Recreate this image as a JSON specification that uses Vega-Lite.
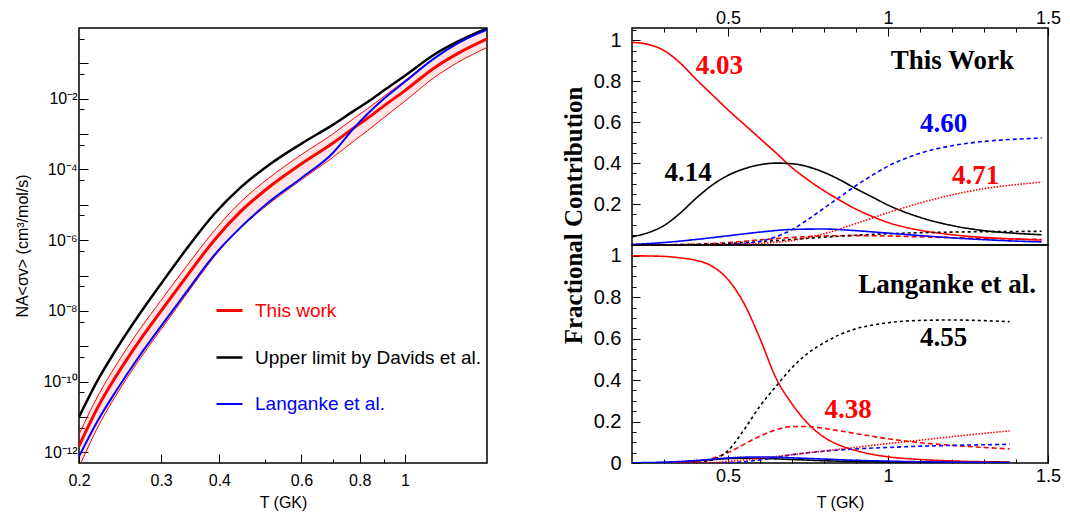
{
  "$schema": "https://vega.github.io/schema/vega-lite/v6.json",
  "background": "white",
  "padding": {"left": 13, "top": 4, "right": 5, "bottom": 5},
  "bounds": "flush",
  "spacing": 145,
  "config": {
    "view": {"stroke": "#000000", "strokeWidth": 1.5},
    "axis": {"grid": false, "domain": false, "tickColor": "#000000", "tickWidth": 1, "labelColor": "#000000", "titleColor": "#000000", "labelFont": "Liberation Sans", "titleFont": "Liberation Sans", "titleFontWeight": "normal", "labelOverlap": false, "labelFlush": false}
  },
  "resolve": {"scale": {"x": "independent", "y": "independent", "color": "independent", "strokeWidth": "independent"}},
  "datasets": {
    "rate": [
      {"T": 0.2, "lower": 3.8e-13, "upper": 3.24e-12, "this": 1.51e-12, "davids": 1.0e-11, "langanke": 7.59e-13},
      {"T": 0.22, "lower": 5.5e-12, "upper": 4.17e-11, "this": 2.0e-11, "davids": 1.175e-10, "langanke": 8.32e-12},
      {"T": 0.24, "lower": 4.07e-11, "upper": 2.88e-10, "this": 1.41e-10, "davids": 7.94e-10, "langanke": 5.37e-11},
      {"T": 0.27, "lower": 4.37e-10, "upper": 3.02e-9, "this": 1.48e-9, "davids": 8.32e-9, "langanke": 5.5e-10},
      {"T": 0.3, "lower": 3.02e-9, "upper": 2.0e-8, "this": 1.0e-8, "davids": 5.89e-8, "langanke": 3.72e-9},
      {"T": 0.34, "lower": 2.95e-8, "upper": 1.82e-7, "this": 9.33e-8, "davids": 5.62e-7, "langanke": 3.47e-8},
      {"T": 0.39, "lower": 3.39e-7, "upper": 1.86e-6, "this": 1.0e-6, "davids": 5.5e-6, "langanke": 3.8e-7},
      {"T": 0.445, "lower": 2.29e-6, "upper": 1.23e-5, "this": 6.61e-6, "davids": 3.16e-5, "langanke": 2.34e-6},
      {"T": 0.51, "lower": 1.047e-5, "upper": 5.62e-5, "this": 3.09e-5, "davids": 1.318e-4, "langanke": 1.175e-5},
      {"T": 0.6, "lower": 5.13e-5, "upper": 2.63e-4, "this": 1.445e-4, "davids": 5.37e-4, "langanke": 5.75e-5},
      {"T": 0.7, "lower": 2.19e-4, "upper": 1.0e-3, "this": 5.5e-4, "davids": 1.82e-3, "langanke": 2.88e-4},
      {"T": 0.78, "lower": 6.61e-4, "upper": 2.88e-3, "this": 1.55e-3, "davids": 4.68e-3, "langanke": 1.55e-3},
      {"T": 0.83, "lower": 1.23e-3, "upper": 5.13e-3, "this": 2.75e-3, "davids": 7.94e-3, "langanke": 3.63e-3},
      {"T": 0.9, "lower": 2.88e-3, "upper": 1.148e-2, "this": 6.17e-3, "davids": 1.7e-2, "langanke": 9.77e-3},
      {"T": 1.0, "lower": 8.51e-3, "upper": 3.24e-2, "this": 1.7e-2, "davids": 4.47e-2, "langanke": 3.02e-2},
      {"T": 1.15, "lower": 3.8e-2, "upper": 0.135, "this": 7.08e-2, "davids": 0.17, "langanke": 0.132},
      {"T": 1.3, "lower": 0.107, "upper": 0.363, "this": 0.191, "davids": 0.417, "langanke": 0.372},
      {"T": 1.5, "lower": 0.282, "upper": 0.933, "this": 0.49, "davids": 0.977, "langanke": 0.891}
    ],
    "upper": [
      {"s": "4.03", "T": 0.2, "f": 0.99}, {"s": "4.03", "T": 0.25, "f": 0.98}, {"s": "4.03", "T": 0.3, "f": 0.95}, {"s": "4.03", "T": 0.35, "f": 0.89}, {"s": "4.03", "T": 0.4, "f": 0.81}, {"s": "4.03", "T": 0.45, "f": 0.735}, {"s": "4.03", "T": 0.5, "f": 0.66}, {"s": "4.03", "T": 0.55, "f": 0.59}, {"s": "4.03", "T": 0.6, "f": 0.52}, {"s": "4.03", "T": 0.65, "f": 0.45}, {"s": "4.03", "T": 0.7, "f": 0.378}, {"s": "4.03", "T": 0.75, "f": 0.318}, {"s": "4.03", "T": 0.8, "f": 0.265}, {"s": "4.03", "T": 0.85, "f": 0.218}, {"s": "4.03", "T": 0.9, "f": 0.175}, {"s": "4.03", "T": 0.95, "f": 0.14}, {"s": "4.03", "T": 1.0, "f": 0.11}, {"s": "4.03", "T": 1.1, "f": 0.072}, {"s": "4.03", "T": 1.2, "f": 0.05}, {"s": "4.03", "T": 1.3, "f": 0.037}, {"s": "4.03", "T": 1.4, "f": 0.029}, {"s": "4.03", "T": 1.48, "f": 0.024},
      {"s": "4.14", "T": 0.2, "f": 0.04}, {"s": "4.14", "T": 0.25, "f": 0.06}, {"s": "4.14", "T": 0.3, "f": 0.095}, {"s": "4.14", "T": 0.35, "f": 0.155}, {"s": "4.14", "T": 0.4, "f": 0.228}, {"s": "4.14", "T": 0.45, "f": 0.292}, {"s": "4.14", "T": 0.5, "f": 0.34}, {"s": "4.14", "T": 0.55, "f": 0.372}, {"s": "4.14", "T": 0.6, "f": 0.392}, {"s": "4.14", "T": 0.65, "f": 0.4}, {"s": "4.14", "T": 0.7, "f": 0.397}, {"s": "4.14", "T": 0.75, "f": 0.382}, {"s": "4.14", "T": 0.8, "f": 0.355}, {"s": "4.14", "T": 0.85, "f": 0.318}, {"s": "4.14", "T": 0.9, "f": 0.275}, {"s": "4.14", "T": 0.95, "f": 0.235}, {"s": "4.14", "T": 1.0, "f": 0.195}, {"s": "4.14", "T": 1.1, "f": 0.135}, {"s": "4.14", "T": 1.2, "f": 0.095}, {"s": "4.14", "T": 1.3, "f": 0.07}, {"s": "4.14", "T": 1.4, "f": 0.057}, {"s": "4.14", "T": 1.48, "f": 0.05},
      {"s": "4.38", "T": 0.2, "f": 0.0}, {"s": "4.38", "T": 0.3, "f": 0.001}, {"s": "4.38", "T": 0.4, "f": 0.004}, {"s": "4.38", "T": 0.5, "f": 0.012}, {"s": "4.38", "T": 0.6, "f": 0.025}, {"s": "4.38", "T": 0.7, "f": 0.037}, {"s": "4.38", "T": 0.8, "f": 0.044}, {"s": "4.38", "T": 0.9, "f": 0.046}, {"s": "4.38", "T": 1.0, "f": 0.044}, {"s": "4.38", "T": 1.1, "f": 0.04}, {"s": "4.38", "T": 1.2, "f": 0.036}, {"s": "4.38", "T": 1.3, "f": 0.032}, {"s": "4.38", "T": 1.4, "f": 0.029}, {"s": "4.38", "T": 1.48, "f": 0.027},
      {"s": "4.55", "T": 0.2, "f": 0.0}, {"s": "4.55", "T": 0.3, "f": 0.001}, {"s": "4.55", "T": 0.4, "f": 0.003}, {"s": "4.55", "T": 0.5, "f": 0.008}, {"s": "4.55", "T": 0.6, "f": 0.016}, {"s": "4.55", "T": 0.7, "f": 0.027}, {"s": "4.55", "T": 0.8, "f": 0.038}, {"s": "4.55", "T": 0.9, "f": 0.048}, {"s": "4.55", "T": 1.0, "f": 0.055}, {"s": "4.55", "T": 1.1, "f": 0.06}, {"s": "4.55", "T": 1.2, "f": 0.063}, {"s": "4.55", "T": 1.3, "f": 0.065}, {"s": "4.55", "T": 1.4, "f": 0.066}, {"s": "4.55", "T": 1.48, "f": 0.067},
      {"s": "4.60", "T": 0.2, "f": 0.0}, {"s": "4.60", "T": 0.4, "f": 0.0}, {"s": "4.60", "T": 0.5, "f": 0.003}, {"s": "4.60", "T": 0.55, "f": 0.008}, {"s": "4.60", "T": 0.6, "f": 0.018}, {"s": "4.60", "T": 0.65, "f": 0.04}, {"s": "4.60", "T": 0.7, "f": 0.075}, {"s": "4.60", "T": 0.75, "f": 0.125}, {"s": "4.60", "T": 0.8, "f": 0.18}, {"s": "4.60", "T": 0.85, "f": 0.235}, {"s": "4.60", "T": 0.9, "f": 0.29}, {"s": "4.60", "T": 0.95, "f": 0.34}, {"s": "4.60", "T": 1.0, "f": 0.385}, {"s": "4.60", "T": 1.05, "f": 0.42}, {"s": "4.60", "T": 1.1, "f": 0.448}, {"s": "4.60", "T": 1.2, "f": 0.485}, {"s": "4.60", "T": 1.3, "f": 0.506}, {"s": "4.60", "T": 1.4, "f": 0.517}, {"s": "4.60", "T": 1.48, "f": 0.522},
      {"s": "4.71", "T": 0.2, "f": 0.0}, {"s": "4.71", "T": 0.4, "f": 0.0}, {"s": "4.71", "T": 0.5, "f": 0.002}, {"s": "4.71", "T": 0.6, "f": 0.008}, {"s": "4.71", "T": 0.7, "f": 0.022}, {"s": "4.71", "T": 0.8, "f": 0.055}, {"s": "4.71", "T": 0.9, "f": 0.105}, {"s": "4.71", "T": 1.0, "f": 0.158}, {"s": "4.71", "T": 1.1, "f": 0.205}, {"s": "4.71", "T": 1.2, "f": 0.245}, {"s": "4.71", "T": 1.3, "f": 0.275}, {"s": "4.71", "T": 1.4, "f": 0.295}, {"s": "4.71", "T": 1.48, "f": 0.307},
      {"s": "other", "T": 0.2, "f": 0.003}, {"s": "other", "T": 0.3, "f": 0.012}, {"s": "other", "T": 0.4, "f": 0.027}, {"s": "other", "T": 0.5, "f": 0.045}, {"s": "other", "T": 0.6, "f": 0.063}, {"s": "other", "T": 0.7, "f": 0.076}, {"s": "other", "T": 0.8, "f": 0.078}, {"s": "other", "T": 0.9, "f": 0.07}, {"s": "other", "T": 1.0, "f": 0.058}, {"s": "other", "T": 1.1, "f": 0.046}, {"s": "other", "T": 1.2, "f": 0.035}, {"s": "other", "T": 1.3, "f": 0.026}, {"s": "other", "T": 1.4, "f": 0.019}, {"s": "other", "T": 1.48, "f": 0.015}
    ],
    "lower": [
      {"s": "4.03", "T": 0.2, "f": 1.0}, {"s": "4.03", "T": 0.25, "f": 0.999}, {"s": "4.03", "T": 0.3, "f": 0.997}, {"s": "4.03", "T": 0.35, "f": 0.99}, {"s": "4.03", "T": 0.4, "f": 0.978}, {"s": "4.03", "T": 0.45, "f": 0.95}, {"s": "4.03", "T": 0.5, "f": 0.885}, {"s": "4.03", "T": 0.55, "f": 0.77}, {"s": "4.03", "T": 0.6, "f": 0.6}, {"s": "4.03", "T": 0.65, "f": 0.41}, {"s": "4.03", "T": 0.7, "f": 0.285}, {"s": "4.03", "T": 0.75, "f": 0.19}, {"s": "4.03", "T": 0.8, "f": 0.125}, {"s": "4.03", "T": 0.85, "f": 0.085}, {"s": "4.03", "T": 0.9, "f": 0.06}, {"s": "4.03", "T": 0.95, "f": 0.042}, {"s": "4.03", "T": 1.0, "f": 0.03}, {"s": "4.03", "T": 1.1, "f": 0.017}, {"s": "4.03", "T": 1.2, "f": 0.01}, {"s": "4.03", "T": 1.3, "f": 0.006}, {"s": "4.03", "T": 1.38, "f": 0.005},
      {"s": "4.14", "T": 0.2, "f": 0.0}, {"s": "4.14", "T": 0.3, "f": 0.002}, {"s": "4.14", "T": 0.4, "f": 0.01}, {"s": "4.14", "T": 0.45, "f": 0.016}, {"s": "4.14", "T": 0.5, "f": 0.021}, {"s": "4.14", "T": 0.55, "f": 0.023}, {"s": "4.14", "T": 0.6, "f": 0.022}, {"s": "4.14", "T": 0.7, "f": 0.017}, {"s": "4.14", "T": 0.8, "f": 0.011}, {"s": "4.14", "T": 0.9, "f": 0.007}, {"s": "4.14", "T": 1.0, "f": 0.005}, {"s": "4.14", "T": 1.2, "f": 0.003}, {"s": "4.14", "T": 1.38, "f": 0.002},
      {"s": "4.38", "T": 0.2, "f": 0.0}, {"s": "4.38", "T": 0.35, "f": 0.002}, {"s": "4.38", "T": 0.4, "f": 0.008}, {"s": "4.38", "T": 0.45, "f": 0.022}, {"s": "4.38", "T": 0.5, "f": 0.05}, {"s": "4.38", "T": 0.55, "f": 0.09}, {"s": "4.38", "T": 0.6, "f": 0.13}, {"s": "4.38", "T": 0.65, "f": 0.16}, {"s": "4.38", "T": 0.7, "f": 0.176}, {"s": "4.38", "T": 0.75, "f": 0.176}, {"s": "4.38", "T": 0.8, "f": 0.167}, {"s": "4.38", "T": 0.85, "f": 0.155}, {"s": "4.38", "T": 0.9, "f": 0.142}, {"s": "4.38", "T": 1.0, "f": 0.117}, {"s": "4.38", "T": 1.1, "f": 0.098}, {"s": "4.38", "T": 1.2, "f": 0.085}, {"s": "4.38", "T": 1.3, "f": 0.075}, {"s": "4.38", "T": 1.38, "f": 0.068},
      {"s": "4.55", "T": 0.2, "f": 0.0}, {"s": "4.55", "T": 0.4, "f": 0.002}, {"s": "4.55", "T": 0.45, "f": 0.015}, {"s": "4.55", "T": 0.5, "f": 0.06}, {"s": "4.55", "T": 0.55, "f": 0.16}, {"s": "4.55", "T": 0.6, "f": 0.275}, {"s": "4.55", "T": 0.65, "f": 0.37}, {"s": "4.55", "T": 0.7, "f": 0.46}, {"s": "4.55", "T": 0.75, "f": 0.53}, {"s": "4.55", "T": 0.8, "f": 0.58}, {"s": "4.55", "T": 0.85, "f": 0.62}, {"s": "4.55", "T": 0.9, "f": 0.648}, {"s": "4.55", "T": 0.95, "f": 0.665}, {"s": "4.55", "T": 1.0, "f": 0.677}, {"s": "4.55", "T": 1.1, "f": 0.688}, {"s": "4.55", "T": 1.2, "f": 0.69}, {"s": "4.55", "T": 1.3, "f": 0.687}, {"s": "4.55", "T": 1.38, "f": 0.682},
      {"s": "4.60", "T": 0.2, "f": 0.0}, {"s": "4.60", "T": 0.45, "f": 0.0}, {"s": "4.60", "T": 0.5, "f": 0.002}, {"s": "4.60", "T": 0.55, "f": 0.006}, {"s": "4.60", "T": 0.6, "f": 0.015}, {"s": "4.60", "T": 0.65, "f": 0.027}, {"s": "4.60", "T": 0.7, "f": 0.04}, {"s": "4.60", "T": 0.8, "f": 0.057}, {"s": "4.60", "T": 0.9, "f": 0.068}, {"s": "4.60", "T": 1.0, "f": 0.075}, {"s": "4.60", "T": 1.1, "f": 0.081}, {"s": "4.60", "T": 1.2, "f": 0.085}, {"s": "4.60", "T": 1.3, "f": 0.088}, {"s": "4.60", "T": 1.38, "f": 0.09},
      {"s": "4.71", "T": 0.2, "f": 0.0}, {"s": "4.71", "T": 0.45, "f": 0.002}, {"s": "4.71", "T": 0.5, "f": 0.008}, {"s": "4.71", "T": 0.6, "f": 0.022}, {"s": "4.71", "T": 0.7, "f": 0.04}, {"s": "4.71", "T": 0.8, "f": 0.058}, {"s": "4.71", "T": 0.9, "f": 0.076}, {"s": "4.71", "T": 1.0, "f": 0.094}, {"s": "4.71", "T": 1.1, "f": 0.11}, {"s": "4.71", "T": 1.2, "f": 0.127}, {"s": "4.71", "T": 1.3, "f": 0.143}, {"s": "4.71", "T": 1.38, "f": 0.155},
      {"s": "other", "T": 0.2, "f": 0.001}, {"s": "other", "T": 0.3, "f": 0.004}, {"s": "other", "T": 0.4, "f": 0.012}, {"s": "other", "T": 0.45, "f": 0.018}, {"s": "other", "T": 0.5, "f": 0.024}, {"s": "other", "T": 0.55, "f": 0.028}, {"s": "other", "T": 0.6, "f": 0.029}, {"s": "other", "T": 0.65, "f": 0.028}, {"s": "other", "T": 0.7, "f": 0.025}, {"s": "other", "T": 0.8, "f": 0.019}, {"s": "other", "T": 0.9, "f": 0.013}, {"s": "other", "T": 1.0, "f": 0.009}, {"s": "other", "T": 1.1, "f": 0.006}, {"s": "other", "T": 1.2, "f": 0.004}, {"s": "other", "T": 1.38, "f": 0.002}
    ]
  },
  "hconcat": [
    {
      "width": 408,
      "height": 435,
      "data": {"name": "rate"},
      "layer": [
        {
          "mark": {"type": "area", "color": "#ff0000", "opacity": 0.1, "clip": true, "interpolate": "monotone"},
          "encoding": {
            "x": {"field": "T", "type": "quantitative", "scale": {"type": "log", "domain": [0.2, 1.5], "nice": false},
              "axis": {"title": "T (GK)", "titleFontSize": 16, "titleY": 39, "titleBaseline": "middle", "labelOverlap": false, "labelFlush": false, "tickCount": 100,
                "values": [0.2, 0.3, 0.4, 0.5, 0.6, 0.7, 0.8, 0.9, 1],
                "labelExpr": "(datum.value == 0.5 || datum.value == 0.7 || datum.value == 0.9) ? '' : format(datum.value, '~g')",
                "tickSize": {"condition": {"test": "datum.value == 0.5 || datum.value == 0.7 || datum.value == 0.9", "value": -4}, "value": -9},
                "labelPadding": 18, "labelFontSize": 16}},
            "y": {"field": "lower", "type": "quantitative", "scale": {"type": "log", "domain": [5.012e-13, 1], "nice": false},
              "axis": {"title": "NA<σv> (cm³/mol/s)", "titleFontSize": 16, "titleX": -57, "titleBaseline": "middle", "labelOverlap": false, "tickCount": 100,
                "values": [1e-12, 5e-12, 1e-11, 5e-11, 1e-10, 5e-10, 1e-9, 5e-9, 1e-8, 5e-8, 1e-7, 5e-7, 1e-6, 5e-6, 1e-5, 5e-5, 1e-4, 5e-4, 1e-3, 5e-3, 1e-2, 5e-2, 1e-1, 5e-1],
                "labelExpr": "round(log(datum.value)/LN10*10) == -20 ? '10⁻²' : round(log(datum.value)/LN10*10) == -40 ? '10⁻⁴' : round(log(datum.value)/LN10*10) == -60 ? '10⁻⁶' : round(log(datum.value)/LN10*10) == -80 ? '10⁻⁸' : round(log(datum.value)/LN10*10) == -100 ? '10⁻¹⁰' : round(log(datum.value)/LN10*10) == -120 ? '10⁻¹²' : ''",
                "tickSize": {"condition": {"test": "round(log(datum.value)/LN10*10) % 10 == 0", "value": -9}, "value": -5},
                "labelPadding": 11, "labelFontSize": 16}},
            "y2": {"field": "upper"}
          }
        },
        {
          "mark": {"type": "line", "color": "#ff0000", "strokeWidth": 1, "clip": true, "interpolate": "monotone"},
          "encoding": {"x": {"field": "T", "type": "quantitative"}, "y": {"field": "upper", "type": "quantitative"}}
        },
        {
          "mark": {"type": "line", "color": "#ff0000", "strokeWidth": 1, "clip": true, "interpolate": "monotone"},
          "encoding": {"x": {"field": "T", "type": "quantitative"}, "y": {"field": "lower", "type": "quantitative"}}
        },
        {
          "transform": [{"fold": ["this", "davids", "langanke"], "as": ["series", "rate"]}],
          "mark": {"type": "line", "clip": true, "interpolate": "monotone"},
          "encoding": {
            "x": {"field": "T", "type": "quantitative"},
            "y": {"field": "rate", "type": "quantitative"},
            "color": {"field": "series", "type": "nominal",
              "scale": {"domain": ["this", "davids", "langanke"], "range": ["#ff0000", "#000000", "#0000ff"]},
              "legend": {"orient": "none", "legendX": 136, "legendY": 268, "title": null, "padding": 0,
                "symbolType": "stroke", "symbolSize": 676, "symbolStrokeWidth": 2,
                "labelFont": "Liberation Sans", "labelFontSize": 19, "labelOffset": 11, "rowPadding": 22, "labelLimit": 400,
                "labelExpr": "datum.label == 'this' ? 'This work' : datum.label == 'davids' ? 'Upper limit by Davids et al.' : 'Langanke et al.'",
                "encode": {
                  "labels": {"update": {"fill": {"signal": "datum.value == 'this' ? '#ff0000' : datum.value == 'davids' ? '#000000' : '#0000ff'"}}},
                  "symbols": {"update": {"strokeWidth": {"signal": "datum.value == 'this' ? 3.5 : 2"}}}
                }}},
            "strokeWidth": {"field": "series", "type": "nominal", "scale": {"domain": ["this", "davids", "langanke"], "range": [3, 2, 2]}, "legend": null}
          }
        }
      ]
    },
    {
      "vconcat": [
        {
          "width": 416,
          "height": 217,
          "layer": [
            {
              "data": {"name": "upper"},
              "mark": {"type": "line", "clip": true, "interpolate": "monotone"},
              "encoding": {
                "x": {"field": "T", "type": "quantitative", "scale": {"domain": [0.2, 1.5], "nice": false, "zero": false},
                  "axis": {"orient": "top", "title": null, "labelOverlap": false, "labelFlush": false, "tickCount": 100,
                    "values": [0.3, 0.4, 0.5, 0.6, 0.7, 0.8, 0.9, 1.0, 1.1, 1.2, 1.3, 1.4, 1.5],
                    "labelExpr": "abs(datum.value*2 - round(datum.value*2)) < 0.001 ? format(datum.value, '~g') : ''",
                    "tickSize": {"condition": {"test": "abs(datum.value*2 - round(datum.value*2)) < 0.001", "value": -8}, "value": -4},
                    "labelPadding": 9, "labelFontSize": 18}},
                "y": {"field": "f", "type": "quantitative", "scale": {"domain": [0, 1.06], "nice": false},
                  "axis": {"title": "Fractional Contribution", "titleFont": "Liberation Serif", "titleFontWeight": "bold", "titleFontSize": 25,
                    "titleX": -59, "titleY": 187, "titleBaseline": "middle", "labelOverlap": false, "tickCount": 100,
                    "values": [0.05, 0.1, 0.15, 0.2, 0.25, 0.3, 0.35, 0.4, 0.45, 0.5, 0.55, 0.6, 0.65, 0.7, 0.75, 0.8, 0.85, 0.9, 0.95, 1.0, 1.05],
                    "labelExpr": "abs(datum.value*5 - round(datum.value*5)) < 0.001 ? format(datum.value, '~g') : ''",
                    "tickSize": {"condition": {"test": "abs(datum.value*5 - round(datum.value*5)) < 0.001", "value": -8}, "value": -4},
                    "labelPadding": 19, "labelFontSize": 20}},
                "color": {"field": "s", "type": "nominal", "scale": {"domain": ["4.03", "4.14", "4.38", "4.55", "4.60", "4.71", "other"], "range": ["#ff0000", "#000000", "#ff0000", "#000000", "#0000ff", "#ff0000", "#0000ff"]}, "legend": null},
                "strokeDash": {"field": "s", "type": "nominal", "scale": {"domain": ["4.03", "4.14", "4.38", "4.55", "4.60", "4.71", "other"], "range": [[1, 0], [1, 0], [5, 3], [3, 3], [4, 3], [1.5, 1.5], [1, 0]]}, "legend": null},
                "strokeWidth": {"field": "s", "type": "nominal", "scale": {"domain": ["4.03", "4.14", "4.38", "4.55", "4.60", "4.71", "other"], "range": [1.6, 1.6, 2, 2, 2, 1.6, 2.2]}, "legend": null}
              }
            },
            {"data": {"values": [{}]}, "mark": {"type": "text", "font": "Liberation Serif", "fontWeight": "bold", "fontSize": 27, "color": "#ff0000"},
              "encoding": {"x": {"datum": 0.473}, "y": {"datum": 0.875}, "text": {"value": "4.03"}}},
            {"data": {"values": [{}]}, "mark": {"type": "text", "font": "Liberation Serif", "fontWeight": "bold", "fontSize": 27, "color": "#000000"},
              "encoding": {"x": {"datum": 1.201}, "y": {"datum": 0.9}, "text": {"value": "This Work"}}},
            {"data": {"values": [{}]}, "mark": {"type": "text", "font": "Liberation Serif", "fontWeight": "bold", "fontSize": 27, "color": "#000000"},
              "encoding": {"x": {"datum": 0.375}, "y": {"datum": 0.354}, "text": {"value": "4.14"}}},
            {"data": {"values": [{}]}, "mark": {"type": "text", "font": "Liberation Serif", "fontWeight": "bold", "fontSize": 27, "color": "#0000ff"},
              "encoding": {"x": {"datum": 1.174}, "y": {"datum": 0.592}, "text": {"value": "4.60"}}},
            {"data": {"values": [{}]}, "mark": {"type": "text", "font": "Liberation Serif", "fontWeight": "bold", "fontSize": 27, "color": "#ff0000"},
              "encoding": {"x": {"datum": 1.274}, "y": {"datum": 0.338}, "text": {"value": "4.71"}}}
          ]
        },
        {
          "width": 416,
          "height": 218,
          "layer": [
            {
              "data": {"name": "lower"},
              "mark": {"type": "line", "clip": true, "interpolate": "monotone"},
              "encoding": {
                "x": {"field": "T", "type": "quantitative", "scale": {"domain": [0.2, 1.5], "nice": false, "zero": false},
                  "axis": {"orient": "bottom", "title": "T (GK)", "titleFontSize": 16, "titleY": 39, "titleBaseline": "middle", "labelOverlap": false, "labelFlush": false, "tickCount": 100,
                    "values": [0.3, 0.4, 0.5, 0.6, 0.7, 0.8, 0.9, 1.0, 1.1, 1.2, 1.3, 1.4, 1.5],
                    "labelExpr": "abs(datum.value*2 - round(datum.value*2)) < 0.001 ? format(datum.value, '~g') : ''",
                    "tickSize": {"condition": {"test": "abs(datum.value*2 - round(datum.value*2)) < 0.001", "value": -8}, "value": -4},
                    "labelPadding": 12, "labelFontSize": 18}},
                "y": {"field": "f", "type": "quantitative", "scale": {"domain": [0, 1.052], "nice": false},
                  "axis": {"title": null, "labelOverlap": false, "tickCount": 100,
                    "values": [0, 0.05, 0.1, 0.15, 0.2, 0.25, 0.3, 0.35, 0.4, 0.45, 0.5, 0.55, 0.6, 0.65, 0.7, 0.75, 0.8, 0.85, 0.9, 0.95, 1.0],
                    "labelExpr": "abs(datum.value*5 - round(datum.value*5)) < 0.001 ? format(datum.value, '~g') : ''",
                    "tickSize": {"condition": {"test": "abs(datum.value*5 - round(datum.value*5)) < 0.001", "value": -8}, "value": -4},
                    "labelPadding": 19, "labelFontSize": 20}},
                "color": {"field": "s", "type": "nominal", "scale": {"domain": ["4.03", "4.14", "4.38", "4.55", "4.60", "4.71", "other"], "range": ["#ff0000", "#000000", "#ff0000", "#000000", "#0000ff", "#ff0000", "#0000ff"]}, "legend": null},
                "strokeDash": {"field": "s", "type": "nominal", "scale": {"domain": ["4.03", "4.14", "4.38", "4.55", "4.60", "4.71", "other"], "range": [[1, 0], [1, 0], [5, 3], [3, 3], [4, 3], [1.5, 1.5], [1, 0]]}, "legend": null},
                "strokeWidth": {"field": "s", "type": "nominal", "scale": {"domain": ["4.03", "4.14", "4.38", "4.55", "4.60", "4.71", "other"], "range": [1.6, 1.6, 2, 2, 2, 1.6, 2.2]}, "legend": null}
              }
            },
            {"data": {"values": [{}]}, "mark": {"type": "text", "font": "Liberation Serif", "fontWeight": "bold", "fontSize": 27, "color": "#000000"},
              "encoding": {"x": {"datum": 1.185}, "y": {"datum": 0.858}, "text": {"value": "Langanke et al."}}},
            {"data": {"values": [{}]}, "mark": {"type": "text", "font": "Liberation Serif", "fontWeight": "bold", "fontSize": 27, "color": "#000000"},
              "encoding": {"x": {"datum": 1.174}, "y": {"datum": 0.601}, "text": {"value": "4.55"}}},
            {"data": {"values": [{}]}, "mark": {"type": "text", "font": "Liberation Serif", "fontWeight": "bold", "fontSize": 27, "color": "#ff0000"},
              "encoding": {"x": {"datum": 0.875}, "y": {"datum": 0.255}, "text": {"value": "4.38"}}}
          ]
        }
      ],
      "spacing": 0,
      "bounds": "flush",
      "resolve": {"scale": {"x": "independent", "y": "independent"}}
    }
  ]
}
